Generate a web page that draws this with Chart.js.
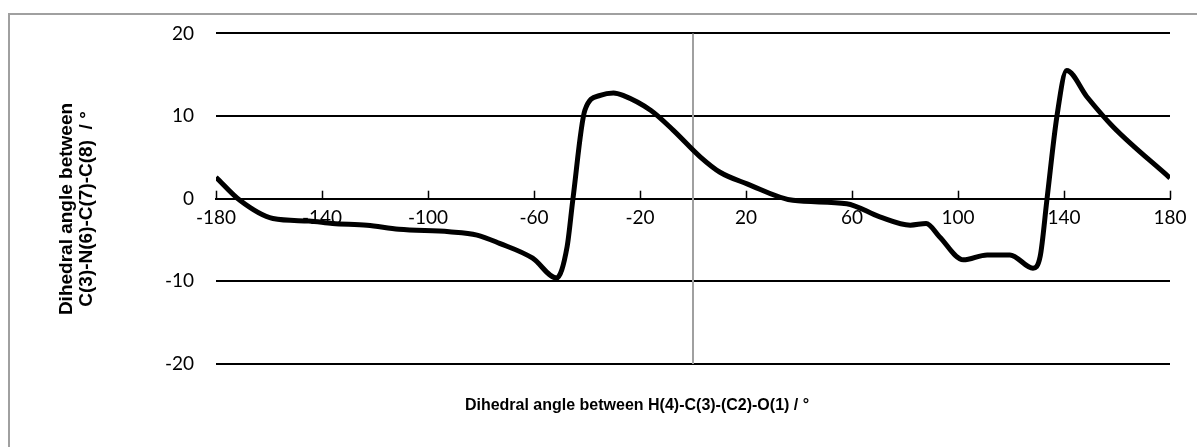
<!DOCTYPE html>
<html>
<head>
<meta charset="utf-8">
<script src="https://cdn.jsdelivr.net/npm/chart.js@4"></script>
<style>
  body { margin: 0; background: #fff; }
  #wrap { width: 1197px; height: 447px; position: relative; }
</style>
</head>
<body>
<div id="wrap"><canvas id="chart"></canvas></div>
<script>
// H(4)-C(3)-(C2)-O(1) angle (x) vs C(3)-N(6)-C(7)-C(8) angle (y)
var hAngle = [-180, -171, -158.5, -145, -136, -123, -111, -92, -81.5, -73, -60.5, -51.5, -47.5, -45.3, -40.8,
    -35, -30, -26.4, -16, -7.5, 2.6, 10.2, 20.4, 37.7, 58, 70.5, 82, 88, 93, 102, 111, 119.6, 128.3, 131,
    133.6, 137.3, 141, 148.7, 158.5, 180];
var nAngle = [2.6, -0.2, -2.4, -2.7, -3.0, -3.2, -3.7, -4.0, -4.4, -5.4, -7.2, -9.6, -5.8, 0, 10.7,
    12.5, 12.8, 12.5, 10.7, 8.3, 5.1, 3.2, 1.8, -0.2, -0.6, -2.2, -3.2, -3.0, -4.6, -7.4, -6.8, -6.8, -8.4, -7,
    0, 9.9, 15.5, 12.3, 8.7, 2.5];
var xTicks = [-180, -140, -100, -60, -20, 20, 60, 100, 140, 180];
var yTicks = [-20, -10, 0, 10, 20];

var points = hAngle.map(function(x, i) { return {x: x, y: nAngle[i]}; });

var decor = {
    id: 'decor',
    beforeDraw: function(chart) {
        var ctx = chart.ctx;
        ctx.save();
        ctx.fillStyle = '#fff';
        ctx.fillRect(0, 0, chart.width, chart.height);
        ctx.strokeStyle = '#a0a0a0';
        ctx.lineWidth = 2;
        ctx.strokeRect(9, 14, chart.width + 10, chart.height + 10);
        ctx.restore();
    },
    beforeDatasetsDraw: function(chart) {
        var ctx = chart.ctx, xs = chart.scales.x, ys = chart.scales.y, a = chart.chartArea;
        var y0 = ys.getPixelForValue(0);
        ctx.save();
        // vertical line at x = 0
        ctx.strokeStyle = '#a0a0a0';
        ctx.lineWidth = 2;
        ctx.beginPath();
        var x0 = Math.round(xs.getPixelForValue(0));
        ctx.moveTo(x0, a.top);
        ctx.lineTo(x0, a.bottom);
        ctx.stroke();
        // tick marks above the x axis
        ctx.strokeStyle = '#000';
        ctx.lineWidth = 1.5;
        xTicks.forEach(function(v) {
            var px = Math.round(xs.getPixelForValue(v)) + 0.5;
            ctx.beginPath();
            ctx.moveTo(px, y0 - 8);
            ctx.lineTo(px, y0);
            ctx.stroke();
        });
        // axis titles
        ctx.fillStyle = '#000';
        ctx.textAlign = 'center';
        ctx.textBaseline = 'middle';
        ctx.font = 'bold 16px "Liberation Sans", Arial, sans-serif';
        ctx.fillText('Dihedral angle between H(4)-C(3)-(C2)-O(1) / \u00b0', 637, 406);
        ctx.font = 'bold 19px "Liberation Sans", Arial, sans-serif';
        ctx.translate(77, 209);
        ctx.rotate(-Math.PI / 2);
        ctx.fillText('Dihedral angle between', 0, -10);
        ctx.fillText('C(3)-N(6)-C(7)-C(8)  / \u00b0', 0, 10);
        ctx.restore();
    }
};

var config = {
    type: 'scatter',
    data: {
        datasets: [{
            data: points,
            showLine: true,
            borderColor: '#000',
            borderWidth: 5,
            pointRadius: 0,
            cubicInterpolationMode: 'monotone',
            fill: false
        }]
    },
    options: {
        responsive: true,
        maintainAspectRatio: false,
        animation: false,
        layout: { padding: { left: 0, right: 27, top: 33, bottom: 83 } },
        plugins: { legend: { display: false }, tooltip: { enabled: false } },
        scales: {
            x: {
                type: 'linear',
                min: -180,
                max: 180,
                position: { y: 0 },
                afterFit: function(scale) { scale.height = 0; },
                afterBuildTicks: function(scale) {
                    scale.ticks = xTicks.map(function(v) { return {value: v}; });
                },
                grid: { display: false, drawTicks: false },
                border: { display: true, color: '#000', width: 2 },
                ticks: {
                    padding: 8,
                    color: '#000',
                    font: { family: 'Lato', size: 19 },
                    maxRotation: 0,
                    autoSkip: false
                }
            },
            y: {
                min: -20,
                max: 20,
                afterFit: function(scale) { scale.width = 216; },
                afterBuildTicks: function(scale) {
                    scale.ticks = yTicks.map(function(v) { return {value: v}; });
                },
                grid: {
                    drawTicks: false,
                    color: function(c) { return c.tick && c.tick.value === 0 ? 'rgba(0,0,0,0)' : '#000'; },
                    lineWidth: 2
                },
                border: { display: false },
                ticks: {
                    padding: 22,
                    color: '#000',
                    font: { family: 'Lato', size: 19 }
                }
            }
        }
    },
    plugins: [decor]
};

window.onload = function() {
    var ctx = document.getElementById('chart').getContext('2d');
    window.myChart = new Chart(ctx, config);
};
</script>
</body>
</html>
